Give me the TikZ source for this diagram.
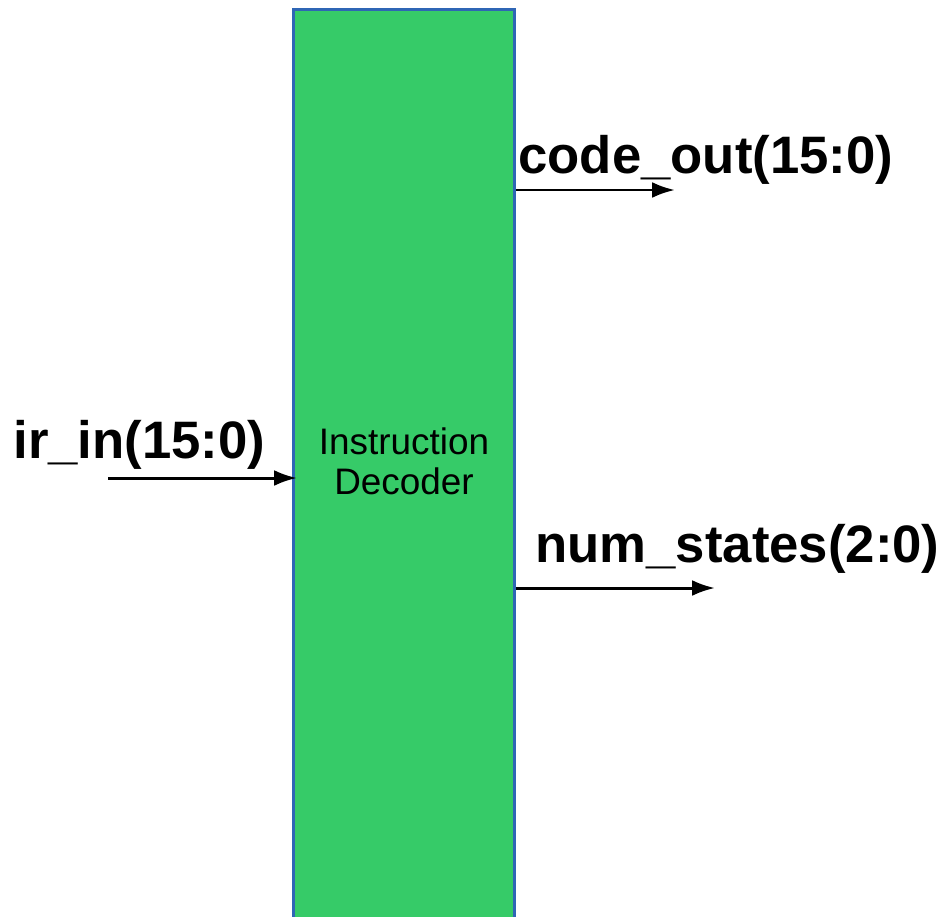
\documentclass[tikz,border=0pt]{standalone}
\usepackage{fontspec}
\setmainfont{Liberation Sans}
\usepackage{tikz}
\usetikzlibrary{arrows.meta}
\usetikzlibrary{positioning}

\definecolor{decgreen}{HTML}{36CB68}
\definecolor{decblue}{HTML}{2F66B5}

\tikzset{sig/.style={line width=1.7pt, -{Latex[length=13pt, width=9pt]}},
	portlabel/.style={anchor=base west, inner sep=0pt, font=\fontsize{30}{36}\selectfont\bfseries}}

\begin{document}
\begin{tikzpicture}[x=0.02cm, y=-0.02cm]
	\useasboundingbox (0, 0) rectangle (942, 916);

	% the decoder block runs off the bottom edge
	\node[draw=decblue, fill=decgreen, line width=1.7pt, minimum width=221*0.02cm, minimum height=917*0.02cm,
		anchor=north west, align=center, text depth=0.28cm, font=\fontsize{21}{23}\selectfont] (dec) at (292, 8) {Instruction\\Decoder};

	\coordinate (irstart) at (108, 478);
	\coordinate (codeend) at (675, 190);
	\coordinate (numend) at (715, 588);

	\draw[sig] (irstart) -- ([xshift=0.1cm]dec.west |- irstart);
	\draw[sig] (dec.east |- codeend) -- (codeend);
	\draw[sig] (dec.east |- numend) -- (numend);

	\node[portlabel] (irlabel) at (13, 458) {ir\_in(15:0)};
	\node[portlabel] (codelabel) at (518, 173) {code\_out(15:0)};
	\node[portlabel] (numlabel) at (535, 562) {num\_states(2:0)};
\end{tikzpicture}
\end{document}
